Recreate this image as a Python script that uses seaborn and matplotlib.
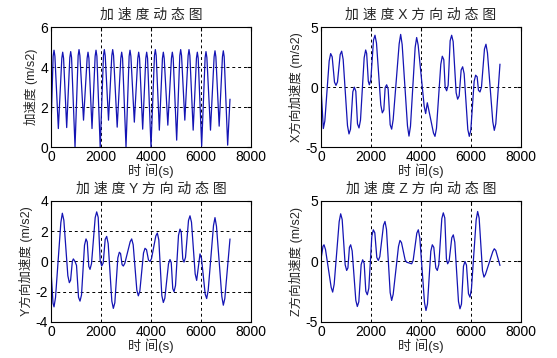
import matplotlib
matplotlib.use("Agg")
import matplotlib.pyplot as plt
import seaborn as sns

# ============================================================
# Data (time in s, acceleration in m/s2)
# ============================================================
t_total = [0, 85, 120, 155, 293, 432, 467, 502, 627, 752, 787, 822, 960,
           1085, 1120, 1155, 1300, 1445, 1480, 1515, 1640, 1765, 1800, 1835,
           1967, 2098, 2133, 2168, 2300, 2432, 2467, 2502, 2647, 2792, 2827,
           2862, 3000, 3125, 3160, 3195, 3333, 3472, 3507, 3542, 3667, 3792,
           3827, 3862, 4000, 4138, 4173, 4208, 4333, 4458, 4493, 4528, 4673,
           4818, 4853, 4888, 5027, 5152, 5187, 5222, 5353, 5485, 5520, 5555,
           5687, 5818, 5853, 5888, 6027, 6165, 6200, 6235, 6380, 6525, 6560,
           6595, 6727, 6858, 6893, 6928, 7067, 7160]
acc_total = [1.0, 4.55, 4.85, 4.55, 0.93, 4.45, 4.75, 4.45, 0.98, 4.48, 4.78,
             4.48, 0.0, 4.58, 4.88, 4.58, 1.35, 4.45, 4.75, 4.45, 0.93, 4.55,
             4.85, 4.55, 0.0, 4.58, 4.88, 4.58, 1.35, 4.58, 4.88, 4.58, 1.0,
             4.45, 4.75, 4.45, 0.0, 4.55, 4.85, 4.55, 1.25, 4.45, 4.75, 4.45,
             0.9, 4.45, 4.75, 4.45, 0.0, 4.58, 4.88, 4.58, 0.85, 4.45, 4.75,
             4.45, 1.1, 4.45, 4.75, 4.45, 0.35, 4.58, 4.88, 4.58, 1.35, 4.58,
             4.88, 4.58, 0.85, 4.45, 4.75, 4.45, 0.05, 4.48, 4.78, 4.48, 0.85,
             4.52, 4.82, 4.52, 1.05, 4.52, 4.82, 4.52, 0.1, 2.4]

t_x = [0, 93, 153, 327, 387, 447, 540, 600, 660, 767, 827, 887, 1060, 1120,
       1180, 1273, 1333, 1393, 1460, 1520, 1580, 1727, 1787, 1827, 1893, 1933,
       1993, 2100, 2160, 2220, 2393, 2453, 2513, 2567, 2627, 2687, 2767, 2827,
       2887, 3127, 3187, 3247, 3460, 3520, 3580, 3767, 3827, 3887, 4127, 4187,
       4253, 4500, 4560, 4620, 4793, 4853, 4913, 4967, 5027, 5087, 5167, 5227,
       5287, 5407, 5467, 5527, 5607, 5667, 5727, 5873, 5933, 5993, 6127, 6187,
       6247, 6300, 6360, 6420, 6540, 6600, 6660, 6873, 6933, 6993, 7160]
acc_x = [0.0, -3.45, -2.83, 2.18, 2.8, 2.53, 0.42, 0.15, 0.44, 2.72, 3.0, 2.31,
         -3.21, -3.9, -3.51, -0.39, 0.0, -0.34, -3.06, -3.4, -2.75, 2.45, 3.1,
         2.81, 0.49, 0.2, 0.61, 3.92, 4.33, 3.68, -1.49, -2.14, -1.9, -0.03,
         0.2, -0.17, -3.13, -3.5, -2.71, 3.61, 4.4, 3.55, -3.23, -4.08, -3.26,
         3.32, 4.14, 3.51, -1.57, -2.2, -1.3, -3.82, -4.1, -3.43, 1.91, 2.58,
         2.29, -0.01, -0.3, 0.16, 3.87, 4.33, 3.8, -0.47, -1.0, -0.73, 1.43,
         1.7, 1.12, -3.52, -4.1, -3.59, 0.49, 1.0, 0.86, -0.26, -0.4, 0.0,
         3.18, 3.58, 2.86, -2.88, -3.6, -3.05, 1.92]

t_y = [0, 80, 120, 180, 393, 453, 513, 673, 733, 783, 853, 893, 960, 1020,
       1100, 1160, 1220, 1340, 1400, 1450, 1510, 1560, 1620, 1767, 1827, 1887,
       1967, 2027, 2087, 2167, 2227, 2287, 2433, 2493, 2553, 2673, 2733, 2783,
       2843, 2893, 2953, 3167, 3227, 3287, 3433, 3493, 3553, 3700, 3760, 3820,
       3900, 3960, 4020, 4193, 4253, 4313, 4433, 4493, 4553, 4700, 4760, 4810,
       4870, 4920, 4980, 5100, 5160, 5210, 5270, 5320, 5380, 5500, 5560, 5620,
       5767, 5827, 5960, 6020, 6167, 6227, 6287, 6500, 6560, 6620, 6833, 6893,
       6953, 7160]
acc_y = [-0.6, -2.76, -3.0, -2.38, 2.57, 3.19, 2.73, -0.94, -1.4, -1.24, 0.01,
         0.17, 0.0, -0.26, -2.36, -2.62, -2.21, 1.08, 1.49, 1.29, -0.32, -0.52,
         -0.14, 2.9, 3.28, 2.92, 0.06, -0.3, -0.1, 1.46, 1.66, 1.18, -2.62,
         -3.1, -2.73, 0.24, 0.61, 0.52, -0.21, -0.3, -0.12, 1.31, 1.49, 1.11,
         -1.89, -2.27, -1.96, 0.56, 0.87, 0.78, 0.09, 0.0, 0.19, 1.69, 1.88,
         1.42, -2.25, -2.71, -2.43, -0.15, 0.13, -0.08, -1.79, -2.0, -1.59,
         1.73, 2.14, 1.92, 0.18, -0.04, 0.27, 2.71, 3.02, 2.59, -0.82, -1.25,
         0.5, 0.2, -2.15, -2.45, -1.92, 2.37, 2.9, 2.32, -2.31, -2.89, -2.45,
         1.49]

t_z = [0, 80, 120, 180, 407, 467, 527, 727, 787, 847, 967, 1027, 1077, 1137,
       1187, 1247, 1393, 1453, 1513, 1607, 1667, 1727, 1793, 1853, 1913, 2033,
       2093, 2153, 2233, 2293, 2353, 2500, 2560, 2620, 2767, 2827, 2887, 3100,
       3160, 3220, 3367, 3427, 3627, 3687, 3833, 3893, 3953, 4140, 4200, 4260,
       4393, 4453, 4513, 4593, 4653, 4713, 4833, 4893, 4953, 5017, 5067, 5127,
       5233, 5293, 5353, 5500, 5560, 5620, 5700, 5760, 5820, 5900, 5960, 6020,
       6207, 6267, 6327, 6460, 6520, 6580, 6873, 6933, 6993, 7160]
acc_z = [0.2, 1.26, 1.38, 0.99, -2.14, -2.53, -1.88, 3.29, 3.94, 3.47, -0.27,
         -0.74, -0.53, 1.17, 1.38, 0.87, -3.21, -3.72, -3.33, -0.25, 0.14,
         -0.15, -2.46, -2.75, -2.21, 2.08, 2.62, 2.37, 0.33, 0.08, 0.4, 2.99,
         3.31, 2.66, -2.57, -3.22, -2.72, 1.24, 1.74, 1.56, 0.12, -0.06, -0.19,
         0.09, 2.34, 2.62, 1.95, -3.38, -4.05, -3.51, 0.84, 1.38, 1.17, -0.53,
         -0.74, -0.26, 3.54, 4.02, 3.6, 0.23, -0.19, 0.05, 1.96, 2.2, 1.59,
         -3.3, -3.91, -3.52, -0.39, 0.0, -0.3, -2.66, -2.95, -2.24, 3.42, 4.13,
         3.59, -0.75, -1.29, -1.06, 0.82, 1.05, 0.91, -0.33]

titles = ["加 速 度 动 态 图", "加 速 度 X 方 向 动 态 图",
          "加 速 度 Y 方 向 动 态 图", "加 速 度 Z 方 向 动 态 图"]
ylabels = ["加速度 (m/s2)", "X方向加速度 (m/s2)",
           "Y方向加速度 (m/s2)", "Z方向加速度 (m/s2)"]
xlabel = "时 间(s)"
xticks = [0, 2000, 4000, 6000, 8000]
yticks = [[0, 2, 4, 6], [-5, 0, 5], [-4, -2, 0, 2, 4], [-5, 0, 5]]

# ============================================================
# Style - MATLAB-like look
# ============================================================
sns.set_style("white")
plt.rcParams['font.family'] = ['Liberation Sans', 'Noto Sans CJK SC']
plt.rcParams['axes.unicode_minus'] = False

fig = plt.figure(figsize=(5.57, 3.58), dpi=100)

# axes boxes in figure fractions (left, bottom, width, height)
boxes = [[0.0916, 0.589, 0.359, 0.335],
         [0.5763, 0.589, 0.359, 0.335],
         [0.0916, 0.1006, 0.359, 0.338],
         [0.5763, 0.1006, 0.359, 0.338]]
series = [(t_total, acc_total), (t_x, acc_x), (t_y, acc_y), (t_z, acc_z)]

for i, (t, a) in enumerate(series):
    ax = fig.add_axes(boxes[i])
    sns.lineplot(x=t, y=a, ax=ax, color='#1414b4', linewidth=0.9,
                 estimator=None, sort=False)
    ax.set_xlim(0, 8000)
    ax.set_ylim(yticks[i][0], yticks[i][-1])
    ax.set_xticks(xticks)
    ax.set_yticks(yticks[i])
    ax.grid(True, color='black', linestyle=(0, (3, 3)), linewidth=0.7)
    ax.tick_params(direction='in', top=True, right=True, length=3,
                   labelsize=10, pad=2, colors='black')
    for s in ax.spines.values():
        s.set_color('black')
        s.set_linewidth(0.8)
    ax.set_title(titles[i], fontsize=10, pad=6)
    ax.set_xlabel(xlabel, fontsize=9.5, labelpad=0)
    ax.set_ylabel(ylabels[i], fontsize=9, labelpad=2)

fig.savefig('out.png', dpi=100)
